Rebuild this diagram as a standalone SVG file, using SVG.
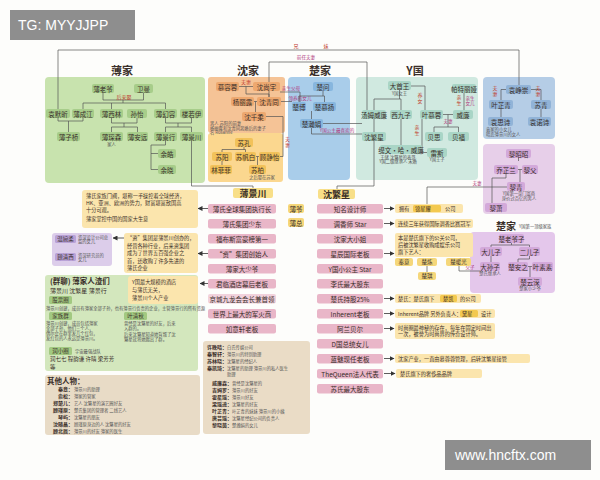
<svg xmlns="http://www.w3.org/2000/svg" width="600" height="480" viewBox="0 0 600 480">
<defs>
<marker id="ah" markerWidth="5" markerHeight="5" refX="4.5" refY="2.5" orient="auto" markerUnits="userSpaceOnUse"><path d="M0,0 L5,2.5 L0,5 z" fill="#333"/></marker>
<style>
text{font-family:"Noto Sans CJK SC","Noto Sans",sans-serif;fill:#3a2f2a}
.t{font-size:6.5px;text-anchor:middle;dominant-baseline:central}
.ti{font-size:11px;text-anchor:middle;font-weight:bold}
.s{font-size:4.3px;fill:#555}
.sc{font-size:4.3px;fill:#555;text-anchor:middle}
.r{font-size:5px;fill:#c0392b;text-anchor:middle}
.pk{font-size:4.6px;fill:#b03a7e;text-anchor:middle}
.nt{font-size:5.2px}
.ln{stroke:#555;stroke-width:0.7;fill:none}
.ar{stroke:#333;stroke-width:0.8;fill:none;marker-end:url(#ah)}
.ng{fill:#a7cd8a}.no{fill:#eda86f}.nsu{fill:#f2c25a}.nc{fill:#87b6de}.ny{fill:#a9d5c6}.nb{fill:#91b3d7}.np{fill:#d3a9da}
.row{fill:#e9b6c8}
.yel{fill:#fbe5ad}
.hl{fill:#f3c94f}
.lb{fill:#a2c981}
</style>
</defs>
<rect width="600" height="480" fill="#fdfdfb"/>

<!-- family areas -->
<rect x="45" y="77" width="160" height="106" rx="4" fill="#c8e3ae"/>
<rect x="208" y="77" width="77" height="56" rx="3" fill="#f5c396"/>
<rect x="208" y="133" width="75" height="49" rx="3" fill="#fbd78f"/>
<rect x="288" y="77" width="62" height="103" rx="4" fill="#a9cdea"/>
<rect x="356" y="77" width="122" height="103" rx="4" fill="#d0e9e0"/>
<rect x="483" y="77" width="72" height="62" rx="4" fill="#b5cde6"/>
<rect x="483" y="144" width="72" height="70" rx="4" fill="#e7cfe9"/>
<rect x="470" y="232" width="85" height="61" rx="4" fill="#e4c7eb"/>

<text class="ti" x="122" y="75">薄家</text>
<text class="ti" x="248" y="75">沈家</text>
<text class="ti" x="320" y="75">楚家</text>
<text class="ti" x="415" y="75">Y国</text>

<!-- connectors -->
<g id="connectors">
<path class="ln" d="M58,109 V50 H519 V85"/>
<text class="r" x="296" y="48">兄</text>
<text class="r" x="326" y="48">妹</text>
<path class="ln" d="M269,97 V62 H367 V110"/>
<text class="pk" x="306" y="59">前任夫妻</text>
<!-- bo family -->
<path class="ln" d="M103,93 V100 H143.5 V93 M123,100 V103 M83,109 V103 H165.5 V109 M111.5,103 V109"/>
<path class="ln" d="M58,118 V121 H83 V118 M68.5,121 V132"/>
<path class="ln" d="M111.5,118 V123 H137 V118 M124,123 V127 M111.5,132 V127 H137.5 V132"/>
<path class="ln" d="M165.5,118 V123 H191.5 V118 M178,123 V127 M165.5,132 V127 H191.5 V132"/>
<path class="ln" d="M165.5,141 V145 H151 V169.5 H158 M151,153.5 H158"/>
<path class="ln" d="M191.5,141 V186 H253 V188"/>
<!-- shen family -->
<path class="ln" d="M239,86.5 H253 M246,86.5 V94 H269 V97 M254,101.5 H257 M255.5,101.5 V112"/>
<path class="ln" d="M280,92 H300 V102 M281,101.5 H292"/>
<text class="pk" x="291" y="90">亲生父母</text>
<text class="pk" x="300" y="99.5">领养的女儿</text>
<path class="ln" d="M266,116.5 H283 V156.5 H280"/>
<text class="r" x="287.5" y="141">夫</text><text class="r" x="287.5" y="147">妻</text>
<path class="ln" d="M244,147 V149.5 H222 V152 M244,149.5 H245.5 V152 M256,156.5 H259 M222,161 V165 M257.5,156.5 V165"/>
<!-- chu family -->
<path class="ln" d="M323,91 V96 H299 V102 M323,96 H324.5 V102 M311.5,111 V119"/>
<path class="ln" d="M323,123.5 H362 M311.5,128 V134 H362"/>
<text class="pk" x="337" y="132">Y国公主最喜欢的</text>
<!-- Y -->
<path class="ln" d="M399.5,90 V99 H374 V110 M399.5,99 H401 V110"/>
<path class="ln" d="M411,86 H425 V110"/>
<text class="r" x="420" y="97">养</text><text class="r" x="420" y="103">女</text>
<path class="ln" d="M464,93 V110"/>
<text class="r" x="459" y="99">亲</text><text class="r" x="459" y="105">生</text>
<path class="ln" d="M443,114.5 H453 M448,114.5 V127 H434 V132 M448,127 H458.5 V132"/>
<text class="pk" x="448" y="122.5">夫妻</text>
<path class="ln" d="M422,119 V152.5 H427"/>
<text class="r" x="417" y="129">亲</text><text class="r" x="417" y="135">生</text>
<path class="ln" d="M374,119 V132 M401,119 V145"/>
<path class="ln" d="M374,141 V186 H337 V189"/>
<!-- yuan -->
<path class="ln" d="M506,89.5 H501 V100 M531,89.5 H541 V100 M501,109 V117 M541,109 V117"/>
<text class="r" x="495" y="90">夫</text><text class="r" x="495" y="96">妻</text>
<text class="r" x="538" y="90">夫</text><text class="r" x="538" y="96">妻</text>
<!-- li -->
<path class="ln" d="M518.5,158 V161 M518,169.5 H522 M520,169.5 V182 M506,174 V178 H492 V203"/>
<path class="ln" d="M427,204 V187 H507"/>
<text class="pk" x="477" y="185">夫妻</text>
<!-- chu2 -->
<path class="ln" d="M511.5,243 V245 H491 V247 M511.5,245 H529.5 V247 M491,256 V262 M529.5,256 V259 H518 V262 M528,266.5 H532 M530,266.5 V277"/>
<path class="ln" d="M427,266 V272 M459,266 V271 H480"/>
<text class="pk" x="470" y="269">父子</text>
<!-- arrows -->
<path class="ar" d="M208,208.5 H198"/>
<path class="ar" d="M208,253.5 H198"/>
<path class="ar" d="M208,283.5 H200"/>
<path class="ar" d="M124,238 H113"/>
<path class="ar" d="M384,208.5 H394"/>
<path class="ar" d="M384,223.5 H394"/>
<path class="ar" d="M384,253.5 H394"/>
<path class="ar" d="M384,298.5 H394"/>
<path class="ar" d="M384,313.5 H394"/>
<path class="ar" d="M384,328.5 H394"/>
<path class="ar" d="M384,358.5 H394"/>
<path class="ar" d="M384,373.5 H395"/>
</g>

<!-- Bo family nodes -->
<g id="bo-laoye"><rect class="ng" x="92" y="84" width="22" height="9" rx="2"/><text class="t" x="103" y="88.5">薄老爷</text></g>
<g id="wei-man"><rect class="ng" x="134" y="84" width="19" height="9" rx="2"/><text class="t" x="143.5" y="88.5">卫曼</text></g>
<text class="r" x="124" y="98.5">后来娶</text>
<g id="yuan-moxin"><rect class="ng" x="46" y="109" width="24" height="9" rx="2"/><text class="t" x="58" y="113.5">袁默昕</text></g>
<g id="bo-chengjiang"><rect class="ng" x="72" y="109" width="22" height="9" rx="2"/><text class="t" x="83" y="113.5">薄成江</text></g>
<g id="bo-xilin"><rect class="ng" x="100" y="109" width="23" height="9" rx="2"/><text class="t" x="111.5" y="113.5">薄西林</text></g>
<g id="sun-yi"><rect class="ng" x="127" y="109" width="20" height="9" rx="2"/><text class="t" x="137" y="113.5">孙怡</text></g>
<g id="bo-huanrong"><rect class="ng" x="154" y="109" width="23" height="9" rx="2"/><text class="t" x="165.5" y="113.5">薄幻容</text></g>
<g id="lou-ruoyi"><rect class="ng" x="180" y="109" width="23" height="9" rx="2"/><text class="t" x="191.5" y="113.5">楼若伊</text></g>
<g id="bo-ziqiao"><rect class="ng" x="57" y="132" width="23" height="9" rx="2"/><text class="t" x="68.5" y="136.5">薄子桥</text></g>
<g id="bo-chensen"><rect class="ng" x="100" y="132" width="23" height="9" rx="2"/><text class="t" x="111.5" y="136.5">薄琛森</text></g>
<text class="sc" x="111.5" y="146">家人</text>
<g id="bo-anyuan"><rect class="ng" x="127" y="132" width="21" height="9" rx="2"/><text class="t" x="137.5" y="136.5">薄安远</text></g>
<g id="bo-jingxing"><rect class="ng" x="154" y="132" width="23" height="9" rx="2"/><text class="t" x="165.5" y="136.5">薄景行</text></g>
<g id="bo-jingchuan-n"><rect class="ng" x="180" y="132" width="23" height="9" rx="2"/><text class="t" x="191.5" y="136.5">薄景川</text></g>
<g id="yu-hao"><rect class="ng" x="158" y="149" width="18" height="9" rx="2"/><text class="t" x="167" y="153.5">余皓</text></g>
<g id="yu-xiao"><rect class="ng" x="158" y="165" width="18" height="9" rx="2"/><text class="t" x="167" y="169.5">余晓</text></g>

<!-- Shen family -->
<g id="murong"><rect class="no" x="216" y="82" width="23" height="9" rx="2"/><text class="t" x="227.5" y="86.5">慕容蓉</text></g>
<text class="r" x="246" y="84">夫妻</text>
<g id="shen-shangyu"><rect class="no" x="253" y="82" width="27" height="9" rx="2"/><text class="t" x="266.5" y="86.5">沈尚宇</text></g>
<g id="yang-lilu"><rect class="no" x="231" y="97" width="23" height="9" rx="2"/><text class="t" x="242.5" y="101.5">杨丽露</text></g>
<g id="shen-qingtong"><rect class="no" x="257" y="97" width="24" height="9" rx="2"/><text class="t" x="269" y="101.5">沈青同</text></g>
<g id="shen-qianrou"><rect class="no" x="242" y="112" width="24" height="9" rx="2"/><text class="t" x="254" y="116.5">沈千柔</text></g>
<text class="s" x="210" y="125">男人 苏阳的前妻</text>
<text class="s" x="210" y="129.5">杨丽露和沈青同离婚后的妻子</text>
<text class="s" x="210" y="134">名 Rosanne</text>

<!-- Su family -->
<g id="su-kong"><rect class="nsu" x="235" y="138" width="18" height="9" rx="2"/><text class="t" x="244" y="142.5">苏孔</text></g>
<g id="su-yang"><rect class="nsu" x="212" y="152" width="20" height="9" rx="2"/><text class="t" x="222" y="156.5">苏阳</text></g>
<g id="su-fanbai"><rect class="nsu" x="235" y="152" width="21" height="9" rx="2"/><text class="t" x="245.5" y="156.5">苏帆白</text></g>
<g id="gu-jingyi"><rect class="nsu" x="259" y="152" width="21" height="9" rx="2"/><text class="t" x="269.5" y="156.5">顾静怡</text></g>
<g id="lin-feifei"><rect class="nsu" x="210" y="165" width="22" height="9" rx="2"/><text class="t" x="221" y="169.5">林菲菲</text></g>
<g id="su-bai"><rect class="nsu" x="249" y="165" width="17" height="9" rx="2"/><text class="t" x="257.5" y="169.5">苏柏</text></g>
<text class="sc" x="262" y="179">之后娶在苏家</text>

<!-- Chu family -->
<g id="chu-wen"><rect class="nc" x="313" y="82" width="20" height="9" rx="2"/><text class="t" x="323" y="86.5">楚问</text></g>
<g id="chu-bo"><rect class="nc" x="292" y="102" width="14" height="9" rx="2"/><text class="t" x="299" y="106.5">楚博</text></g>
<g id="chu-muyang"><rect class="nc" x="313" y="102" width="23" height="9" rx="2"/><text class="t" x="324.5" y="106.5">楚慕扬</text></g>
<g id="chu-hanjuan"><rect class="nc" x="300" y="119" width="23" height="9" rx="2"/><text class="t" x="311.5" y="123.5">楚瀚娟</text></g>

<!-- Y kingdom -->
<g id="da-shouwang"><rect class="ny" x="388" y="81" width="23" height="9" rx="2"/><text class="t" x="399.5" y="85.5">大首王</text></g>
<text class="sc" x="399.5" y="95">Y国女王</text>
<g id="pateliya"><rect class="ny" x="452" y="84" width="24" height="9" rx="2"/><text class="t" x="464" y="88.5">帕特丽娅</text></g>
<text class="pk" x="470" y="100">亲生</text><text class="pk" x="470" y="105">女儿</text>
<g id="tangmu"><rect class="ny" x="362" y="110" width="24" height="9" rx="2"/><text class="t" x="374" y="114.5">汤姆威廉</text></g>
<g id="xijiuzi"><rect class="ny" x="390" y="110" width="22" height="9" rx="2"/><text class="t" x="401" y="114.5">西九子</text></g>
<g id="ye-murong"><rect class="ny" x="420" y="110" width="23" height="9" rx="2"/><text class="t" x="431.5" y="114.5">叶慕蓉</text></g>
<g id="weilian"><rect class="ny" x="453" y="110" width="20" height="9" rx="2"/><text class="t" x="463" y="114.5">威廉</text></g>
<g id="shen-fanxing-y"><rect class="ny" x="362" y="132" width="24" height="9" rx="2"/><text class="t" x="374" y="136.5">沈繁星</text></g>
<g id="beisi"><rect class="ny" x="425" y="132" width="18" height="9" rx="2"/><text class="t" x="434" y="136.5">贝思</text></g>
<g id="beifu"><rect class="ny" x="448" y="132" width="21" height="9" rx="2"/><text class="t" x="458.5" y="136.5">贝福</text></g>
<g id="tiwen"><rect class="ny" x="380" y="145" width="42" height="9" rx="2"/><text class="t" x="401" y="149.5">缇文·哈·威廉</text></g>
<text class="sc" x="398" y="158.5">王储 沈繁星的表哥</text>
<text class="sc" x="398" y="163">Y国二级继承人 未婚</text>
<g id="leisi"><rect class="ny" x="427" y="148" width="20" height="9" rx="2"/><text class="t" x="437" y="152.5">雷斯</text></g>
<text class="sc" x="437" y="161">Y国王子</text>

<!-- Yuan family -->
<g id="yuan-zhengchong"><rect class="nb" x="506" y="85" width="25" height="9" rx="2"/><text class="t" x="518.5" y="89.5">袁峥崇</text></g>
<g id="ye-zhiqing"><rect class="nb" x="489" y="100" width="24" height="9" rx="2"/><text class="t" x="501" y="104.5">叶芷青</text></g>
<g id="su-qing"><rect class="nb" x="531" y="100" width="20" height="9" rx="2"/><text class="t" x="541" y="104.5">苏青</text></g>
<g id="yuan-sishi"><rect class="nb" x="488" y="117" width="25" height="9" rx="2"/><text class="t" x="500.5" y="121.5">袁思诗</text></g>
<g id="yuan-nuoshi"><rect class="nb" x="528" y="117" width="23" height="9" rx="2"/><text class="t" x="539.5" y="121.5">袁诺诗</text></g>
<text class="s" x="486" y="131">袁家的小女儿</text>
<text class="s" x="486" y="136">暗恋薄景川的女人</text>

<!-- Li family -->
<g id="li-zhaozhao"><rect class="np" x="506" y="149" width="25" height="9" rx="2"/><text class="t" x="518.5" y="153.5">黎昭昭</text></g>
<g id="qiao-zhilan"><rect class="np" x="494" y="165" width="24" height="9" rx="2"/><text class="t" x="506" y="169.5">乔芷兰</text></g>
<g id="li-fu"><rect class="np" x="522" y="165" width="16" height="9" rx="2"/><text class="t" x="530" y="169.5">黎父</text></g>
<g id="li-qing"><rect class="np" x="507" y="182" width="18" height="9" rx="2"/><text class="t" x="516" y="186.5">黎青</text></g>
<text class="sc" x="519" y="195">Y国第一豪门富商</text>
<text class="sc" x="519" y="200">身价过百亿的男人</text>
<g id="li-xiao"><rect class="np" x="485" y="203" width="22" height="9" rx="2"/><text class="t" x="496" y="207.5">黎萧</text></g>

<!-- Chu family 2 -->
<text class="ti" x="506" y="230" style="font-size:10px">楚家</text>
<text class="s" x="519" y="228">Y国第一顶级家族</text>
<g id="chu-laoye"><rect class="np" x="499" y="234" width="25" height="9" rx="2"/><text class="t" x="511.5" y="238.5">楚老爷子</text></g>
<g id="da-erzi"><rect class="np" x="480" y="247" width="22" height="9" rx="2"/><text class="t" x="491" y="251.5">大儿子</text></g>
<g id="er-erzi"><rect class="np" x="519" y="247" width="21" height="9" rx="2"/><text class="t" x="529.5" y="251.5">二儿子</text></g>
<g id="da-sunzi"><rect class="np" x="480" y="262" width="20" height="9" rx="2"/><text class="t" x="490" y="266.5">大孙子</text></g>
<text class="sc" x="490" y="275">楚氏继承人</text>
<g id="chu-anzhi"><rect class="np" x="508" y="262" width="20" height="9" rx="2"/><text class="t" x="518" y="266.5">楚安之</text></g>
<g id="ye-susu"><rect class="np" x="532" y="262" width="21" height="9" rx="2"/><text class="t" x="542.5" y="266.5">叶素素</text></g>
<g id="chu-yunshen"><rect class="np" x="518" y="277" width="24" height="9" rx="2"/><text class="t" x="530" y="281.5">楚云深</text></g>
<text class="sc" x="530" y="290">楚家小少爷</text>

<!-- Bo Jingchuan column -->
<g id="bjc-title"><rect x="233" y="188" width="40" height="10" rx="2" fill="#f8df88"/><text class="t" x="253" y="193" style="font-size:9px;font-weight:bold">薄景川</text></g>
<g id="bjc-rows">
<rect class="row" x="208" y="204" width="68" height="9.5" rx="2"/><text class="t" x="242" y="208.8">薄氏全球集团执行长</text>
<rect class="row" x="208" y="219" width="68" height="9.5" rx="2"/><text class="t" x="242" y="223.8">薄氏集团少东</text>
<rect class="row" x="208" y="234" width="68" height="9.5" rx="2"/><text class="t" x="242" y="238.8">福布斯富豪榜第一</text>
<rect class="row" x="208" y="249" width="68" height="9.5" rx="2"/><text class="t" x="242" y="253.8">“资”集团创始人</text>
<rect class="row" x="208" y="264" width="68" height="9.5" rx="2"/><text class="t" x="242" y="268.8">薄家大少爷</text>
<rect class="row" x="208" y="279" width="68" height="9.5" rx="2"/><text class="t" x="242" y="283.8">君临酒店幕后老板</text>
<rect class="row" x="208" y="294" width="68" height="9.5" rx="2" style="fill:#f1d2dc"/><text class="t" x="242" y="298.8">京城九龙会会长兼首领</text>
<rect class="row" x="208" y="309" width="68" height="9.5" rx="2"/><text class="t" x="242" y="313.8">世界上最大的军火商</text>
<rect class="row" x="208" y="324" width="68" height="9.5" rx="2"/><text class="t" x="242" y="328.8">如意轩老板</text>
</g>
<g id="bo-ye"><rect x="288" y="204" width="16" height="9" rx="2" fill="#f5d77a"/><text class="t" x="296" y="208.5">薄爷</text></g>
<g id="bo-zong"><rect x="288" y="218" width="16" height="9" rx="2" fill="#f5d77a"/><text class="t" x="296" y="222.5">薄总</text></g>

<!-- Shen Fanxing column -->
<g id="sfx-title"><rect x="318" y="189" width="37" height="10" rx="2" fill="#f8df88"/><text class="t" x="336.5" y="194" style="font-size:9px;font-weight:bold">沈繁星</text></g>
<g id="sfx-rows">
<rect class="row" x="317" y="204" width="66" height="9.5" rx="2"/><text class="t" x="350" y="208.8">知名设计师</text>
<rect class="row" x="317" y="219" width="66" height="9.5" rx="2"/><text class="t" x="350" y="223.8">调香师 Star</text>
<rect class="row" x="317" y="234" width="66" height="9.5" rx="2"/><text class="t" x="350" y="238.8">沈家大小姐</text>
<rect class="row" x="317" y="249" width="66" height="9.5" rx="2"/><text class="t" x="350" y="253.8">星辰国际老板</text>
<rect class="row" x="317" y="264" width="66" height="9.5" rx="2"/><text class="t" x="350" y="268.8">Y国小公主 Star</text>
<rect class="row" x="317" y="279" width="66" height="9.5" rx="2"/><text class="t" x="350" y="283.8">李氏最大股东</text>
<rect class="row" x="317" y="294" width="66" height="9.5" rx="2"/><text class="t" x="350" y="298.8">楚氏持股25%</text>
<rect class="row" x="317" y="309" width="66" height="9.5" rx="2"/><text class="t" x="350" y="313.8">Inherent老板</text>
<rect class="row" x="317" y="324" width="66" height="9.5" rx="2"/><text class="t" x="350" y="328.8">阿兰贝尔</text>
<rect class="row" x="317" y="339" width="66" height="9.5" rx="2"/><text class="t" x="350" y="343.8">D国总统女儿</text>
<rect class="row" x="317" y="354" width="66" height="9.5" rx="2"/><text class="t" x="350" y="358.8">蓝魅现任老板</text>
<rect class="row" x="317" y="369" width="66" height="9.5" rx="2"/><text class="t" x="350" y="373.8">TheQueen法人代表</text>
<rect class="row" x="317" y="384" width="66" height="9.5" rx="2"/><text class="t" x="350" y="388.8">苏氏最大股东</text>
</g>

<!-- right notes -->
<g id="note-r1"><rect class="yel" x="395" y="204" width="68" height="9" rx="2"/><text class="nt" x="399" y="210.5">拥有</text><rect class="hl" x="413" y="205" width="28" height="7" rx="1.5"/><text class="nt" x="415" y="210.5">锦星耀</text><text class="nt" x="445" y="210.5">公司</text></g>
<g id="note-r2"><rect class="yel" x="395" y="219" width="78" height="9" rx="2"/><text class="nt" x="398" y="225.5">连续三年获得国际调香比赛冠军</text></g>
<g id="note-r3"><rect class="yel" x="395" y="233" width="78" height="24" rx="2"/><text class="nt" x="398" y="239.5">本是楚氏旗下的公关公司，</text><text class="nt" x="398" y="246.5">后被沈繁星收购成娱乐公司</text><text class="nt" x="398" y="253.5">旗下艺人：</text></g>
<g id="qin-yi"><rect x="395" y="258" width="18" height="8" rx="2" fill="#f5d77a"/><text class="t" x="404" y="262" style="font-size:5.5px">秦意</text></g>
<g id="chu-lian"><rect x="417" y="258" width="20" height="8" rx="2" fill="#f5d77a"/><text class="t" x="427" y="262" style="font-size:5.5px">楚炼</text></g>
<g id="chu-nuanguang"><rect x="446" y="258" width="25" height="8" rx="2" fill="#f5d77a"/><text class="t" x="458.5" y="262" style="font-size:5.5px">楚暖光</text></g>
<g id="chu-qi"><rect x="418" y="272" width="18" height="8" rx="2" fill="#f5d77a"/><text class="t" x="427" y="276" style="font-size:5.5px">楚琪</text></g>
<g id="note-r7"><rect class="yel" x="395" y="294" width="86" height="9" rx="2"/><text class="nt" x="398" y="300.5">楚氏：楚氏旗下</text><rect class="hl" x="440" y="295" width="17" height="7" rx="1.5"/><text class="nt" x="443" y="300.5">楚凯</text><text class="nt" x="460" y="300.5">的公司</text></g>
<g id="note-r8"><rect class="yel" x="395" y="309" width="100" height="9" rx="2"/><text class="nt" x="398" y="315.5">Inherent品牌  另外负责人：</text><rect class="hl" x="460" y="310" width="18" height="7" rx="1.5"/><text class="nt" x="462" y="315.5">黛星</text><text class="nt" x="481" y="315.5">设计</text></g>
<g id="note-r9"><rect class="yel" x="395" y="323" width="100" height="16" rx="2"/><text class="nt" x="398" y="329.5">时尚圈最神秘的存在，每年在固定时间出</text><text class="nt" x="398" y="336">一次，被誉为时尚界的传奇设计师。</text></g>
<g id="note-r11"><rect class="yel" x="395" y="354" width="135" height="9" rx="2"/><text class="nt" x="398" y="360.5">沈家产业，一直由慕蓉蓉管理，后转沈繁星接管</text></g>
<g id="note-r12"><rect class="yel" x="396" y="369" width="86" height="9" rx="2"/><text class="nt" x="400" y="375.5">楚氏旗下的奢侈品品牌</text></g>

<!-- left notes -->
<g id="note-l1"><rect class="yel" x="82" y="190" width="116" height="38" rx="3"/>
<text class="nt" x="86" y="197.5">薄氏家族门阀，堪称一手操控着全球经济，</text>
<text class="nt" x="86" y="204.5">HK、亚洲、欧洲的势力，财富堪富敌国高</text>
<text class="nt" x="86" y="211.5">十分可观。</text>
<text class="nt" x="86" y="220.5">薄家掌控中国的国家大生意</text></g>
<g id="note-purple"><rect x="52" y="233" width="60" height="33" rx="3" fill="#dccdea"/>
<rect x="55" y="235" width="21" height="8" rx="1.5" fill="#b9a2d7"/><text class="t" x="65.5" y="239" style="font-size:5.5px">温婉柔</text>
<text class="s" x="78" y="238.5">资深设计公司总</text><text class="s" x="78" y="243">监的女儿</text>
<rect x="55" y="253" width="21" height="8" rx="1.5" fill="#b9a2d7"/><text class="t" x="65.5" y="257" style="font-size:5.5px">顾清西</text>
<text class="s" x="78" y="256.5">资深研究员的</text><text class="s" x="78" y="261">女儿</text></g>
<g id="note-l2"><rect class="yel" x="124" y="233" width="74" height="40" rx="3"/>
<text class="nt" x="127" y="240">“资”集团是薄景川创办的，</text>
<text class="nt" x="127" y="247.5">经营各种行业，后来资集团</text>
<text class="nt" x="127" y="255">成为了世界五百强企业之</text>
<text class="nt" x="127" y="262.5">首，还收购了许多先进的</text>
<text class="nt" x="127" y="270">薄氏企业</text></g>

<g id="group-chat"><rect x="45" y="275" width="153" height="96" rx="3" fill="#d3e7bd"/>
<text x="50" y="284" style="font-size:7.5px;font-weight:bold">(群聊) 薄家人渣们</text>
<text x="50" y="293" style="font-size:6px">薄景川 沈繁星 薄景行</text>
<rect class="lb" x="49" y="296" width="23" height="8" rx="1.5"/><text class="t" x="60.5" y="300" style="font-size:5.5px">股票圈</text>
<text class="s" x="46" y="309.5">薄景川创建，成员有薄家全部子孙，也有薄景行负责的企业，主管薄景行的所有资源</text>
<rect class="lb" x="49" y="312" width="23" height="8" rx="1.5"/><text class="t" x="60.5" y="316" style="font-size:5.5px">家族群</text>
<text class="s" x="46" y="325">薄景川创建，成员包括薄家</text>
<text class="s" x="46" y="330">全部子孙，他们三个人，</text>
<text class="s" x="46" y="335">偶尔会在群里发几个红包，</text>
<text class="s" x="46" y="340">发红包的人永远是薄景川。</text>
<rect class="lb" x="124" y="312" width="23" height="8" rx="1.5"/><text class="t" x="135.5" y="316" style="font-size:5.5px">叶清秋</text>
<text class="s" x="124" y="325">曾经是沈繁星的好友，后来</text>
<text class="s" x="124" y="330">入群的。</text>
<text class="s" x="124" y="336">后来沈繁星知道她背叛了沈</text>
<text class="s" x="124" y="341">繁星就将她踢出了群。</text>
<rect class="lb" x="49" y="347" width="23" height="8" rx="1.5"/><text class="t" x="60.5" y="351" style="font-size:5.5px">润小圈</text>
<text class="s" x="75" y="352.5">宇宙最强战队</text>
<text x="50" y="361" style="font-size:5.5px">润七七  程韵谦  许晴   梁芳芳</text>
<text x="50" y="369" style="font-size:5.5px">等</text></g>
<g id="note-hotel"><rect class="yel" x="128" y="276" width="70" height="28" rx="3"/>
<text class="nt" x="132" y="283.5">Y国最大规模的酒店</text>
<text class="nt" x="132" y="291.5">与薄氏无关，</text>
<text class="nt" x="132" y="299.5">薄景川个人产业</text></g>

<!-- other characters -->
<g id="others"><rect x="45" y="375" width="155" height="60" rx="3" fill="#e8dbc6"/>
<text x="47" y="384" style="font-size:7.5px;font-weight:bold">其他人物：</text>
<g style="font-size:5px">
<text x="73" y="391" text-anchor="end" font-weight="bold">秦意：</text><text class="s" x="74" y="391">薄景川的助理</text>
<text x="73" y="398" text-anchor="end" font-weight="bold">俞松：</text><text class="s" x="74" y="398">薄家的管家</text>
<text x="73" y="405" text-anchor="end" font-weight="bold">郑楚儿：</text><text class="s" x="74" y="405">艺人 沈繁星的演艺圈好友</text>
<text x="73" y="412" text-anchor="end" font-weight="bold">顾瑾原：</text><text class="s" x="74" y="412">楚氏集团的管理者 二线艺人</text>
<text x="73" y="419" text-anchor="end" font-weight="bold">琴屿：</text><text class="s" x="74" y="419">沈繁星的朋友</text>
<text x="73" y="426" text-anchor="end" font-weight="bold">沈随晶：</text><text class="s" x="74" y="426">顾瑾原身边的人 沈繁星的好友</text>
<text x="73" y="433" text-anchor="end" font-weight="bold">顾北辰：</text><text class="s" x="74" y="433">薄景川的好友 薄家的医生</text>
</g></g>
<g id="others2"><rect x="203" y="341" width="107" height="93" rx="3" fill="#eadcc6"/>
<g style="font-size:5px">
<text x="207" y="349" font-weight="bold">许晚晴：</text><text class="s" x="227" y="349">白氏传媒公司</text>
<text x="207" y="356" font-weight="bold">秦智轩：</text><text class="s" x="227" y="356">薄景川的特别助理</text>
<text x="207" y="363" font-weight="bold">苏林晓：</text><text class="s" x="227" y="363">沈繁星的经纪人</text>
<text x="207" y="370" font-weight="bold">秦凯琦：</text><text class="s" x="227" y="370">沈繁星的助理 薄景川的私人医生</text>
<text class="s" x="227" y="376">助理</text>
<text x="212" y="385" font-weight="bold">威廉森：</text><text class="s" x="232" y="385">曾经是沈繁星的</text>
<text x="212" y="392" font-weight="bold">吉姆罗：</text><text class="s" x="232" y="392">薄景川的好友</text>
<text x="212" y="399" font-weight="bold">霍星瑶：</text><text class="s" x="232" y="399">薄景川好友</text>
<text x="212" y="406" font-weight="bold">梁瑶迪：</text><text class="s" x="232" y="406">沈繁星的好友</text>
<text x="212" y="413" font-weight="bold">叶芷青：</text><text class="s" x="232" y="413">叶芷青的妹妹 薄景川的小姨</text>
<text x="212" y="420" font-weight="bold">唐芸瑶：</text><text class="s" x="232" y="420">沈繁星经纪公司的负责人</text>
<text x="212" y="427" font-weight="bold">黎晓茵：</text><text class="s" x="232" y="427">楚瀚娟的女儿</text>
</g></g>

<!-- watermark labels -->
<g id="tg"><rect x="10" y="10" width="125" height="30" fill="#8e8e8e"/><text x="18" y="30" style="font-family:'Liberation Sans',sans-serif;font-size:14px;fill:#fff">TG: MYYJJPP</text></g>
<g id="site"><rect x="445" y="440" width="146" height="30" fill="#8e8e8e"/><text x="455" y="460" style="font-family:'Liberation Sans',sans-serif;font-size:14px;fill:#fff">www.hncftx.com</text></g>
</svg>
